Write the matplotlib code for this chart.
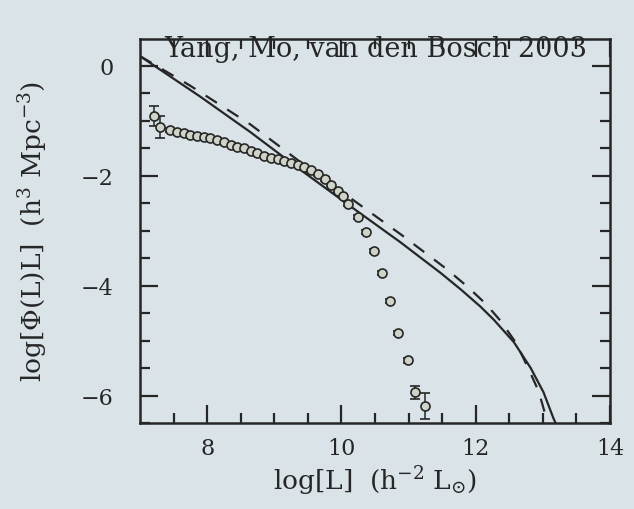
import matplotlib.pyplot as plt
import numpy as np

plt.rcParams['font.family'] = ['DejaVu Serif']
plt.rcParams['mathtext.fontset'] = 'dejavuserif'

# model curves (solid and dashed), log L vs log[Phi(L) L]
solid_x = [7.0, 7.9, 8.64, 9.39, 10.13, 10.88, 11.48, 11.78, 12.07, 12.27, 12.57,
           12.82, 13.01, 13.16, 13.19]
solid_y = [0.18, -0.56, -1.2, -1.89, -2.55, -3.21, -3.77, -4.07, -4.38, -4.62, -5.03,
           -5.5, -5.94, -6.42, -6.5]
dash_x = [7.0, 7.75, 8.64, 9.39, 10.13, 10.9, 11.57, 11.88, 12.15, 12.37, 12.6, 12.79,
          12.94, 13.04, 13.07]
dash_y = [0.18, -0.36, -1.06, -1.75, -2.4, -3.08, -3.7, -4.02, -4.33, -4.64, -5.04,
          -5.52, -5.93, -6.36, -6.5]

# measured points
data_x = [7.21, 7.3, 7.45, 7.55, 7.65, 7.75, 7.85, 7.95, 8.05, 8.15, 8.25, 8.35, 8.45,
          8.55, 8.65, 8.75, 8.85, 8.95, 9.05, 9.15, 9.25, 9.35, 9.45, 9.55, 9.65, 9.75,
          9.85, 9.95, 10.03, 10.1, 10.24, 10.36, 10.48, 10.61, 10.73, 10.85, 10.99,
          11.1, 11.25]
data_y = [-0.91, -1.11, -1.17, -1.2, -1.22, -1.25, -1.27, -1.3, -1.32, -1.35, -1.39,
          -1.43, -1.47, -1.5, -1.55, -1.59, -1.63, -1.67, -1.7, -1.73, -1.76, -1.8,
          -1.83, -1.9, -1.97, -2.06, -2.16, -2.27, -2.37, -2.51, -2.75, -3.02, -3.37,
          -3.77, -4.28, -4.86, -5.36, -5.94, -6.19]
data_err = [0.18, 0.2, 0.04, 0.03, 0.03, 0.03, 0.03, 0.03, 0.03, 0.03, 0.03, 0.03,
            0.03, 0.03, 0.03, 0.03, 0.03, 0.03, 0.03, 0.03, 0.03, 0.03, 0.03, 0.03,
            0.03, 0.03, 0.03, 0.03, 0.03, 0.03, 0.03, 0.03, 0.03, 0.03, 0.03, 0.03,
            0.04, 0.12, 0.24]

bg = '#d9e3e8'
ink = '#262626'

fig = plt.figure(figsize=(6.34, 5.10), dpi=100, facecolor=bg)
ax = fig.add_axes([0.2208, 0.1686, 0.7413, 0.7539])
ax.set_facecolor(bg)

ax.plot(solid_x, solid_y, color=ink, lw=1.6)
ax.plot(dash_x, dash_y, color=ink, lw=1.6, dashes=(6, 5.5))
ax.errorbar(data_x, data_y, yerr=data_err, fmt='o', ms=6.5, mfc='#cfd4c8', mec=ink,
            mew=1.2, ecolor=ink, elinewidth=1.1, capsize=3.5, capthick=1.1)

ax.text(10.51, 0.31, 'Yang, Mo, van den Bosch 2003', ha='center', va='center',
        fontsize=19.5, color=ink)

ax.set_xlim(7, 14)
ax.set_ylim(-6.5, 0.5)
ax.set_xticks([8, 10, 12, 14])
ax.set_yticks([0, -2, -4, -6])
ax.set_xticks(np.arange(7.5, 14, 0.5), minor=True)
ax.set_yticks(np.arange(-6.5, 0.5, 0.5), minor=True)
ax.tick_params(which='both', direction='in', top=True, right=True, colors=ink,
               labelcolor=ink, labelsize=16, width=1.6)
ax.tick_params(which='major', length=13)
ax.tick_params(axis='y', which='major', pad=19)
ax.tick_params(axis='x', which='major', pad=10)
ax.tick_params(which='minor', length=7)
for s in ax.spines.values():
    s.set_color(ink)
    s.set_linewidth(1.8)

ax.set_xlabel(r'log[L]  (h$^{-2}$ L$_{\odot}$)', fontsize=19, color=ink, labelpad=3)
ax.set_ylabel(r'log[$\Phi$(L)L]  (h$^{3}$ Mpc$^{-3}$)', fontsize=19, color=ink, labelpad=22)

plt.savefig('out.png', dpi=100, facecolor=bg)
